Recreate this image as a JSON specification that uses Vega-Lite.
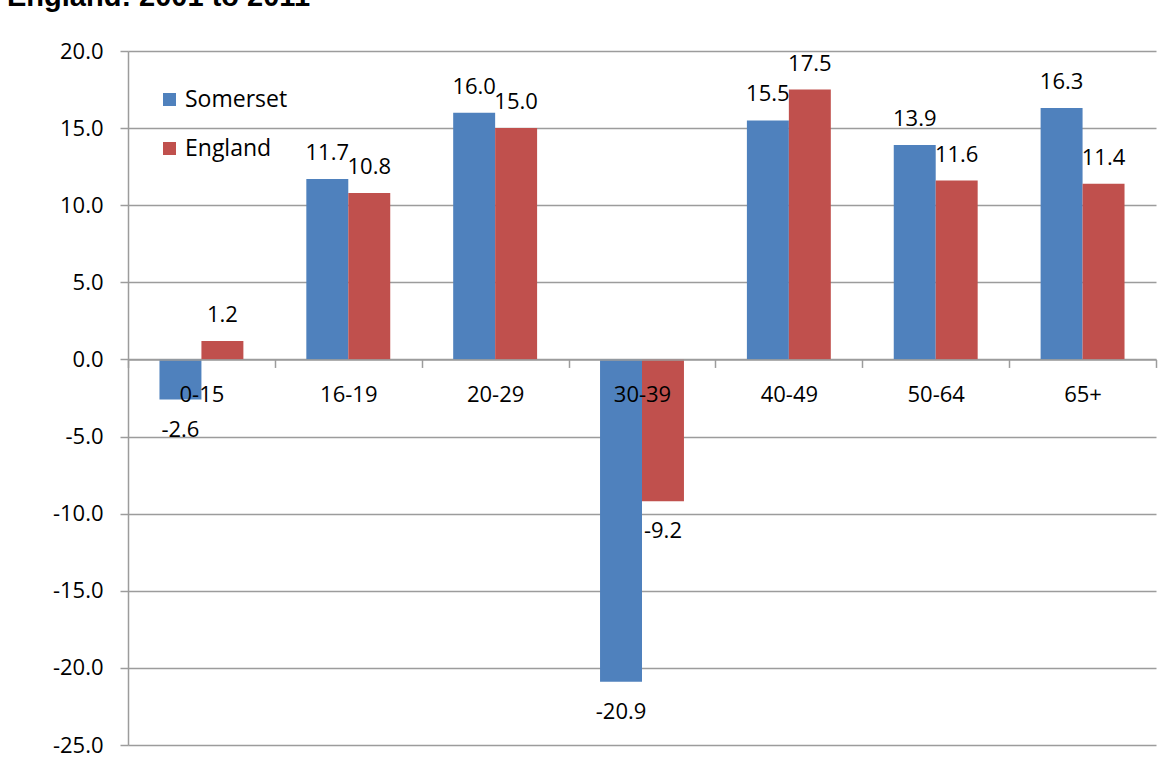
{
  "$schema": "https://vega.github.io/schema/vega-lite/v6.json",
  "autosize": {"type": "none"},
  "width": 1028,
  "height": 694,
  "padding": {"top": 51, "left": 128, "right": 12, "bottom": 35},
  "background": "white",
  "title": {
    "text": "England: 2001 to 2011",
    "anchor": "start",
    "frame": "group",
    "font": "Liberation Sans",
    "fontSize": 29,
    "fontWeight": "bold",
    "color": "#000000",
    "baseline": "alphabetic",
    "offset": 0,
    "dx": -121,
    "dy": -5
  },
  "data": {
    "values": [
      {"age": "0-15", "area": "Somerset", "value": -2.6},
      {"age": "0-15", "area": "England", "value": 1.2},
      {"age": "16-19", "area": "Somerset", "value": 11.7},
      {"age": "16-19", "area": "England", "value": 10.8},
      {"age": "20-29", "area": "Somerset", "value": 16.0},
      {"age": "20-29", "area": "England", "value": 15.0},
      {"age": "30-39", "area": "Somerset", "value": -20.9},
      {"age": "30-39", "area": "England", "value": -9.2},
      {"age": "40-49", "area": "Somerset", "value": 15.5},
      {"age": "40-49", "area": "England", "value": 17.5},
      {"age": "50-64", "area": "Somerset", "value": 13.9},
      {"age": "50-64", "area": "England", "value": 11.6},
      {"age": "65+", "area": "Somerset", "value": 16.3},
      {"age": "65+", "area": "England", "value": 11.4}
    ]
  },
  "transform": [
    {"calculate": "replace(format(datum.value, '.1f'), '\u2212', '-')", "as": "label"}
  ],
  "encoding": {
    "x": {
      "field": "age",
      "type": "nominal",
      "sort": null,
      "scale": {"paddingInner": 0, "paddingOuter": 0},
      "axis": {
        "title": null,
        "orient": "bottom",
        "offset": -385.56,
        "zindex": 1,
        "labelAngle": 0,
        "labelFont": "Open Sans",
        "labelFontSize": 22,
        "labelColor": "#000000",
        "labelBaseline": "middle",
        "labelPadding": 27,
        "domainColor": "#9c9c9c",
        "domainWidth": 1.5,
        "tickColor": "#9c9c9c",
        "tickWidth": 1.5,
        "tickSize": 8,
        "bandPosition": 0,
        "tickBand": "extent",
        "grid": false
      }
    },
    "xOffset": {
      "field": "area",
      "type": "nominal",
      "sort": ["Somerset", "England"],
      "scale": {"paddingOuter": 0.75, "paddingInner": 0}
    },
    "y": {
      "field": "value",
      "type": "quantitative",
      "scale": {"domain": [-25, 20], "nice": false, "zero": false},
      "axis": {
        "title": null,
        "values": [-25, -20, -15, -10, -5, 0, 5, 10, 15, 20],
        "format": ".1f",
        "labelExpr": "replace(datum.label, '\u2212', '-')",
        "labelFont": "Open Sans",
        "labelFontSize": 22,
        "labelColor": "#000000",
        "labelPadding": 17,
        "tickSize": 8,
        "tickColor": "#9c9c9c",
        "tickWidth": 1.5,
        "domainColor": "#9c9c9c",
        "domainWidth": 1.5,
        "grid": true,
        "gridColor": "#9c9c9c",
        "gridWidth": 1.5
      }
    }
  },
  "layer": [
    {
      "mark": {"type": "bar"},
      "encoding": {
        "color": {
          "field": "area",
          "type": "nominal",
          "sort": ["Somerset", "England"],
          "scale": {"domain": ["Somerset", "England"], "range": ["#4F81BD", "#C0504D"]},
          "legend": {
            "title": null,
            "orient": "none",
            "legendX": 30,
            "legendY": 37,
            "padding": 0,
            "symbolType": "square",
            "symbolSize": 169,
            "symbolStrokeWidth": 0,
            "labelFont": "Open Sans",
            "labelFontSize": 23,
            "labelColor": "#000000",
            "labelOffset": 4,
            "rowPadding": 25
          }
        }
      }
    },
    {
      "transform": [{"filter": "datum.value >= 0"}],
      "mark": {"type": "text", "baseline": "middle", "align": "center", "dy": -26, "font": "Open Sans", "fontSize": 22, "color": "#000000"},
      "encoding": {"text": {"field": "label", "type": "nominal"}}
    },
    {
      "transform": [{"filter": "datum.value < 0"}],
      "mark": {"type": "text", "baseline": "middle", "align": "center", "dy": 30, "font": "Open Sans", "fontSize": 22, "color": "#000000"},
      "encoding": {"text": {"field": "label", "type": "nominal"}}
    }
  ],
  "config": {
    "view": {"stroke": null}
  }
}
